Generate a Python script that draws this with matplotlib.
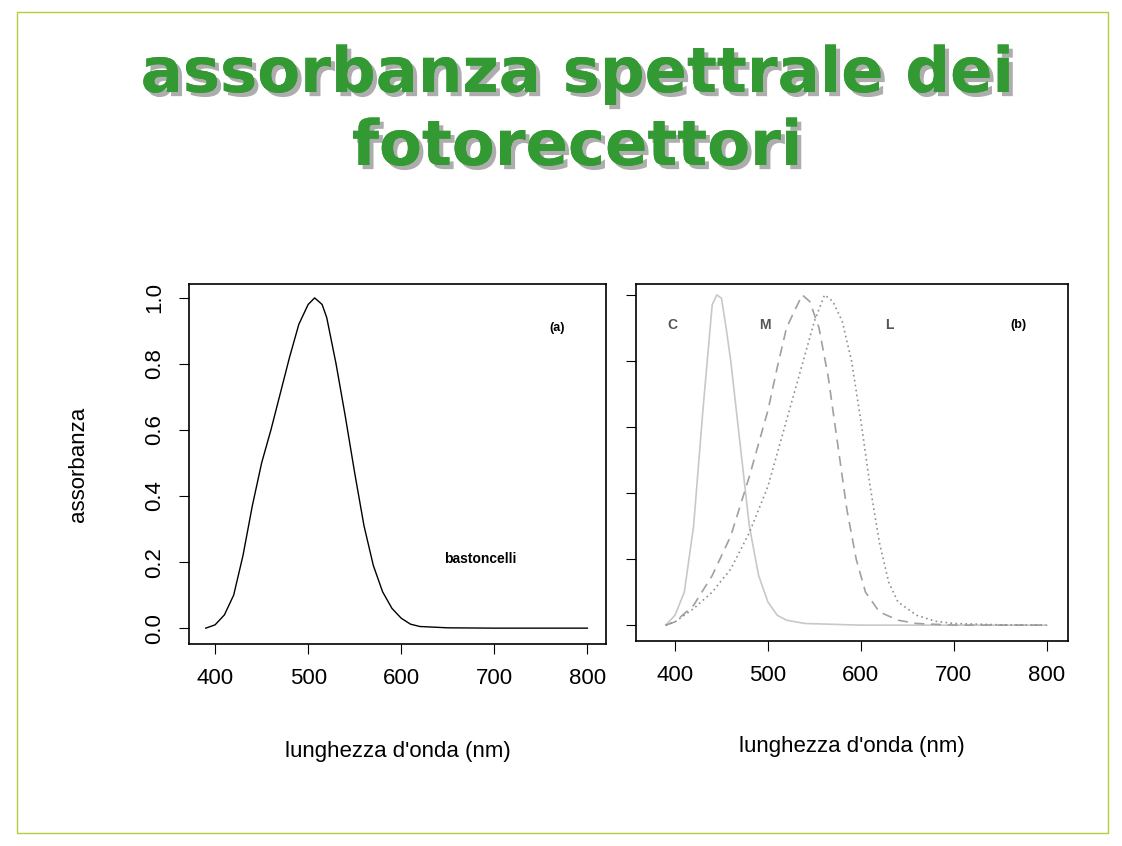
import numpy as np
import matplotlib.pyplot as plt
from matplotlib.patches import Rectangle
import matplotlib.patheffects as pe

plt.rcParams['font.family'] = ['Liberation Sans', 'DejaVu Sans']

# bastoncelli (rods)
rod_wl = [390, 400, 410, 420, 430, 440, 450, 460, 470, 480, 490, 500, 507, 515, 520,
          530, 540, 550, 560, 570, 580, 590, 600, 610, 620, 650, 700, 800]
rod_abs = [0.0, 0.01, 0.04, 0.10, 0.22, 0.37, 0.50, 0.60, 0.71, 0.82, 0.92, 0.98, 1.0, 0.98,
           0.94, 0.80, 0.64, 0.47, 0.31, 0.19, 0.11, 0.06, 0.03, 0.012, 0.005, 0.001, 0.0, 0.0]

# coni C, M, L
c_wl = [390, 400, 410, 420, 430, 440, 445, 450, 455, 460, 470, 480, 490, 500, 510, 520, 540, 600, 800]
c_abs = [0.0, 0.03, 0.10, 0.30, 0.65, 0.97, 1.0, 0.99, 0.90, 0.80, 0.55, 0.30, 0.15, 0.07,
         0.03, 0.015, 0.005, 0.0, 0.0]
m_wl = [390, 400, 420, 440, 460, 480, 500, 510, 520, 530, 537, 545, 555, 565, 575, 585,
        595, 605, 620, 640, 660, 700, 800]
m_abs = [0.0, 0.01, 0.06, 0.15, 0.27, 0.45, 0.65, 0.78, 0.90, 0.96, 1.0, 0.98, 0.90, 0.75,
         0.55, 0.35, 0.20, 0.10, 0.04, 0.015, 0.005, 0.0, 0.0]
l_wl = [390, 400, 420, 440, 460, 480, 500, 520, 540, 550, 561, 570, 580, 590, 600, 610,
        620, 630, 640, 660, 680, 700, 750, 800]
l_abs = [0.0, 0.01, 0.05, 0.10, 0.17, 0.28, 0.42, 0.62, 0.82, 0.92, 1.0, 0.98, 0.92, 0.80,
         0.62, 0.42, 0.25, 0.13, 0.07, 0.03, 0.012, 0.005, 0.001, 0.0]

W, H = 1122, 846
fig = plt.figure(figsize=(W / 100, H / 100), dpi=100)
fig.patches.append(Rectangle((17 / W, 1 - 833 / H), 1091 / W, 821 / H, transform=fig.transFigure,
                             fill=False, edgecolor='#b5cf3a', lw=1))

for txt, y in [('assorbanza spettrale dei', 75), ('fotorecettori', 148)]:
    fig.text(577 / W, 1 - y / H, txt, ha='center', va='center', fontsize=45,
             fontweight='bold', family='DejaVu Sans', color='#339933',
             path_effects=[pe.withSimplePatchShadow(offset=(3, -3), shadow_rgbFace='#999999', alpha=0.8),
                           pe.Normal()])

ax1 = fig.add_axes([189 / W, 1 - 644 / H, 417 / W, 360 / H])
ax2 = fig.add_axes([636 / W, 1 - 641 / H, 432 / W, 357 / H])

ax1.plot(rod_wl, rod_abs, color='black', lw=1)
ax1.set_xlim(372, 820)
ax1.set_ylim(-0.048, 1.042)
ax1.set_yticks([0, 0.2, 0.4, 0.6, 0.8, 1.0])
ax1.set_yticklabels(['0.0', '0.2', '0.4', '0.6', '0.8', '1.0'], rotation=90, va='center')
ax1.set_ylabel('assorbanza', fontsize=16, labelpad=40)
ax1.text(767, 0.91, '(a)', fontsize=9, fontweight='bold', ha='center', va='center')
ax1.text(685, 0.21, 'bastoncelli', fontsize=10, fontweight='bold', ha='center', va='center')

ax2.plot(c_wl, c_abs, color='#c8c8c8', lw=1.2)
ax2.plot(m_wl, m_abs, color='#a0a0a0', lw=1.2, ls=(0, (6, 4)))
ax2.plot(l_wl, l_abs, color='#909090', lw=1.2, ls=(0, (1, 2)))
ax2.set_xlim(358, 823)
ax2.set_ylim(-0.048, 1.033)
ax2.set_yticks([0, 0.2, 0.4, 0.6, 0.8, 1.0])
ax2.set_yticklabels([])
for lbl, x in [('C', 397), ('M', 497), ('L', 631)]:
    ax2.text(x, 0.91, lbl, fontsize=10, fontweight='bold', color='#555555', ha='center', va='center')
ax2.text(770, 0.91, '(b)', fontsize=9, fontweight='bold', ha='center', va='center')

for ax in (ax1, ax2):
    ax.set_xticks([400, 500, 600, 700, 800])
    ax.tick_params(direction='out', length=7, labelsize=16, pad=10)
    for s in ax.spines.values():
        s.set_linewidth(1.2)
ax1.set_xlabel("lunghezza d'onda (nm)", fontsize=16, labelpad=38)
ax2.set_xlabel("lunghezza d'onda (nm)", fontsize=16, labelpad=36)

fig.savefig('out.png', dpi=100)
